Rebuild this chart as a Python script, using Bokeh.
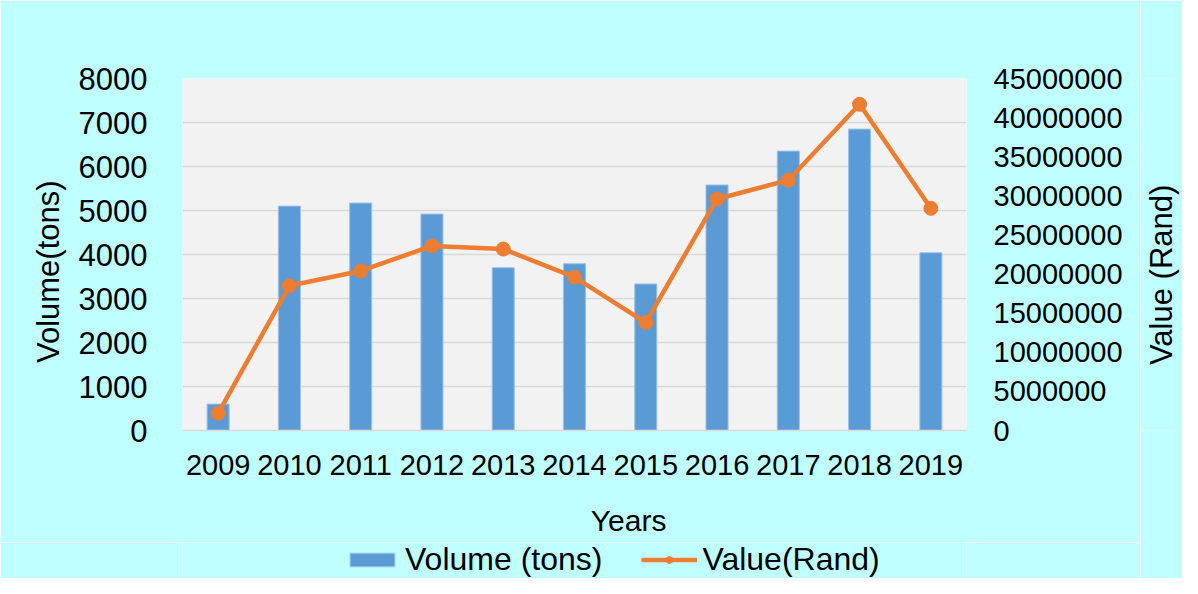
import math
from bokeh.plotting import figure
from bokeh.layouts import column, row
from bokeh.core.properties import value
from bokeh.models import (Range1d, LinearAxis, SingleIntervalTicker,
                          BasicTickFormatter, Legend, LegendItem, FactorRange)
from bokeh.embed import file_html
from bokeh.resources import INLINE

years = ["2009", "2010", "2011", "2012", "2013", "2014", "2015", "2016", "2017", "2018", "2019"]
volume_tons = [600, 5100, 5170, 4920, 3700, 3790, 3330, 5580, 6350, 6850, 4040]
value_rand = [2200000, 18500000, 20400000, 23600000, 23200000, 19600000, 13800000,
              29600000, 32000000, 41700000, 28400000]
series_names = ["Volume (tons)", "Value(Rand)"]
right_title = "Value (Rand)"

FONT = "Liberation Sans"
BG = "#C0FFFF"
BAR_FILL = "#5B9BD5"
BAR_LINE = "#9DC3E6"
ORANGE = "#ED7D31"
NB = "\u00a0"

p = figure(width=1140, height=542, output_backend="svg", toolbar_location=None,
           x_range=FactorRange(factors=years, range_padding=0),
           y_range=Range1d(0, 8000),
           min_border_left=182, min_border_right=174, min_border_top=78, min_border_bottom=112)
p.extra_y_ranges = {"val": Range1d(0, 45000000)}

p.border_fill_color = BG
p.background_fill_color = "#F2F2F2"
p.outline_line_color = None

p.vbar(x=years, top=volume_tons, width=0.31, fill_color=BAR_FILL,
       line_color=BAR_LINE, line_width=1)
p.line(x=years, y=value_rand, y_range_name="val", line_color=ORANGE, line_width=4.5)
p.scatter(x=years, y=value_rand, y_range_name="val", size=14,
          fill_color=ORANGE, line_color=ORANGE)

# left axis
ya = p.yaxis[0]
ya.ticker = SingleIntervalTicker(interval=1000)
ya.axis_line_color = None
ya.major_tick_line_color = None
ya.minor_tick_line_color = None
ya.major_label_standoff = 29
ya.major_label_text_font = FONT
ya.major_label_text_font_size = "31px"
ya.major_label_text_color = "black"
ya.axis_label = "Volume(tons)" + NB * 4
ya.axis_label_text_font = FONT
ya.axis_label_text_font_size = "31px"
ya.axis_label_text_font_style = "normal"
ya.axis_label_text_color = "black"
ya.axis_label_standoff = 10

# right axis
ra = LinearAxis(y_range_name="val", ticker=SingleIntervalTicker(interval=5000000),
                formatter=BasicTickFormatter(use_scientific=False))
ra.axis_line_color = None
ra.major_tick_line_color = None
ra.minor_tick_line_color = None
ra.major_tick_out = 0
ra.minor_tick_out = 0
ra.major_label_standoff = 27
ra.major_label_text_font = FONT
ra.major_label_text_font_size = "29px"
ra.major_label_text_color = "black"
p.add_layout(ra, "right")

# x axis
xa = p.xaxis[0]
xa.axis_line_color = "#D9D9D9"
xa.axis_line_width = 1.5
xa.major_tick_line_color = None
xa.minor_tick_line_color = None
xa.major_label_standoff = 18
xa.major_label_text_font = FONT
xa.major_label_text_font_size = "29px"
xa.major_label_text_color = "black"
xa.axis_label = NB * 13 + "Years"
xa.axis_label_text_font = FONT
xa.axis_label_text_font_size = "30px"
xa.axis_label_text_font_style = "normal"
xa.axis_label_text_color = "black"
xa.axis_label_standoff = 26

p.xgrid.grid_line_color = None
p.ygrid.grid_line_color = "#D9D9D9"
p.ygrid.grid_line_width = 1.5

# legend strip (separate figure so the legend is not clipped by the plot frame);
# its renderers are hidden, they only feed the legend swatches
lf = figure(width=1140, height=36, output_backend="svg", toolbar_location=None,
            x_range=FactorRange(factors=years, range_padding=0), y_range=Range1d(-2, -1),
            x_axis_type=None, y_axis_type=None, min_border=0)
lf.border_fill_color = BG
lf.background_fill_color = BG
lf.outline_line_color = None
lf.xgrid.visible = False
lf.ygrid.visible = False
lb = lf.vbar(x=years, top=volume_tons, width=0.31, fill_color=BAR_FILL,
             line_color=BAR_LINE, line_width=1, visible=False)
ll = lf.line(x=years, y=value_rand, line_color=ORANGE, line_width=4.5, visible=False)
lp = lf.scatter(x=years, y=value_rand, size=14, fill_color=ORANGE, line_color=ORANGE,
                visible=False)

legend = Legend(items=[LegendItem(label=series_names[0], renderers=[lb]),
                       LegendItem(label=series_names[1], renderers=[ll, lp])],
                orientation="horizontal", location=(162, 0),
                background_fill_alpha=0, border_line_color=None,
                inactive_fill_alpha=0,
                label_text_font=FONT, label_text_font_size="32px", label_text_color="black",
                glyph_width=56, glyph_height=17, label_standoff=5, spacing=39,
                padding=0, margin=0)
lf.add_layout(legend, "center")

# narrow strip on the right carrying the right-axis title, read bottom to top
tf = figure(width=42, height=578, output_backend="svg", toolbar_location=None,
            x_range=Range1d(0, 1), y_range=Range1d(0, 45000000),
            x_axis_type=None, y_axis_type=None,
            min_border_left=0, min_border_right=0, min_border_top=78, min_border_bottom=148)
tf.border_fill_color = BG
tf.background_fill_color = BG
tf.outline_line_color = None
tf.xgrid.visible = False
tf.ygrid.visible = False
tf.text(x=[0.5], y=[19900000], text=[right_title], angle=math.pi / 2,
        text_align="center", text_baseline="middle",
        text_font=value(FONT), text_font_size="31px", text_color="black")

layout = row(column(p, lf, spacing=0), tf, spacing=0)
open("out.html", "w").write(file_html(layout, INLINE))
